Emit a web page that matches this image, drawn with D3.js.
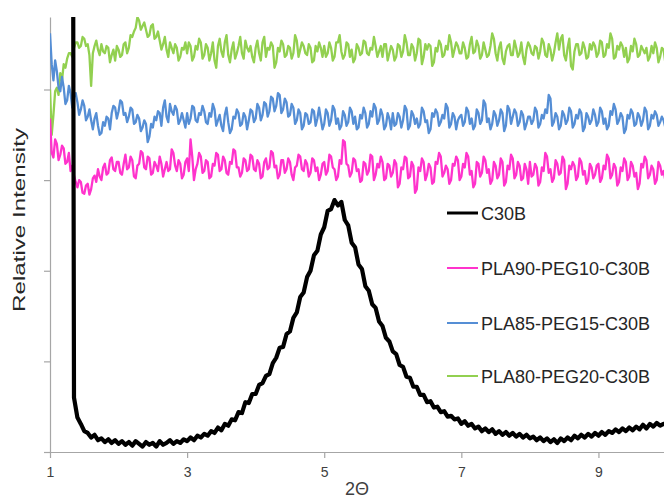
<!DOCTYPE html>
<html>
<head>
<meta charset="utf-8">
<script src="https://cdn.jsdelivr.net/npm/d3@7"></script>
<style>
  html, body { margin: 0; padding: 0; background: #fff; }
  svg { display: block; }
  text { font-family: "Liberation Sans", Arial, sans-serif; }
</style>
</head>
<body>
<svg id="chart" width="664" height="499"></svg>
<script>
// ---- DATA ----
// C30B sampled every 0.05 (2θ from 1.00); blends sampled every 0.025 (2θ from 1.00)
const blackStart = 1, blackStep = 0.05;
const blendStart = 1, blendStep = 0.025;
const seriesNames = ["C30B", "PLA90-PEG10-C30B", "PLA85-PEG15-C30B", "PLA80-PEG20-C30B"];
const xTicks = [1, 3, 5, 7, 9];
const yTicks = [0, 100, 200, 300, 400];

const c30b = [
  null, null, null, null, null, null, 2000, 60, 38, 31, 23, 21, 16, 19, 13, 15, 11, 14, 10, 13,
  9, 12, 8, 11, 7, 12, 9, 6, 11, 8, 10, 6, 12, 8, 10, 13, 9, 12, 10, 14,
  12, 16, 13, 18, 16, 20, 18, 23, 21, 27, 24, 31, 29, 36, 35, 44, 43, 55, 54, 64,
  64, 74, 76, 84, 86, 98, 104, 115, 116, 130, 133, 148, 154, 171, 176, 193, 200, 217, 222, 240,
  248, 266, 268, 278, 272, 276, 256, 250, 231, 226, 207, 202, 183, 178, 163, 159, 144, 139, 126, 122,
  111, 108, 96, 94, 83, 82, 72, 72, 63, 63, 55, 56, 49, 50, 44, 45, 39, 40, 36, 37,
  31, 34, 29, 31, 26, 28, 23, 26, 22, 25, 20, 23, 19, 22, 18, 21, 17, 20, 16, 19,
  15, 17, 13, 16, 12, 15, 11, 14, 10, 15, 12, 16, 13, 18, 15, 19, 16, 20, 17, 21,
  18, 22, 19, 23, 21, 25, 22, 26, 23, 27, 24, 28, 25, 30, 26, 31, 28, 32, 29, 31,
  30
];

const pla90 = [
  368, 330, 325, 345, 340, 322, 328, 338, 335, 318, 320, 330, 310, 316, 305, 298, 292, 300, 298, 286,
  285, 294, 296, 284, 290, 302, 305, 298, 312, 304, 300, 314, 318, 306, 308, 322, 325, 312, 310, 320,
  320, 308, 306, 318, 328, 312, 314, 326, 322, 304, 302, 316, 318, 332, 330, 314, 312, 326, 324, 306,
  308, 320, 316, 310, 326, 318, 304, 312, 320, 310, 312, 334, 330, 316, 310, 322, 318, 302, 306, 320,
  324, 310, 345, 326, 300, 312, 318, 330, 326, 308, 310, 322, 320, 302, 304, 318, 316, 330, 328, 310,
  312, 326, 322, 308, 306, 320, 318, 334, 332, 314, 314, 304, 308, 324, 322, 310, 312, 328, 326, 312,
  310, 322, 318, 302, 304, 320, 324, 312, 314, 332, 330, 314, 316, 302, 306, 322, 322, 308, 312, 324,
  320, 306, 300, 314, 316, 328, 326, 312, 310, 322, 318, 304, 308, 324, 322, 310, 314, 300, 306, 318,
  320, 306, 310, 328, 326, 314, 312, 300, 304, 322, 318, 344, 342, 318, 316, 304, 308, 324, 322, 310,
  312, 298, 300, 320, 318, 306, 310, 328, 326, 300, 306, 318, 314, 326, 320, 300, 302, 318, 316, 304,
  308, 322, 318, 292, 296, 314, 312, 326, 324, 302, 304, 320, 316, 286, 290, 314, 310, 324, 320, 300,
  306, 318, 314, 296, 298, 320, 318, 330, 326, 304, 308, 316, 312, 296, 300, 318, 316, 326, 322, 300,
  304, 318, 314, 330, 326, 306, 310, 292, 296, 320, 318, 304, 308, 326, 322, 308, 312, 296, 300, 320,
  316, 302, 306, 324, 320, 294, 298, 316, 312, 328, 324, 302, 306, 320, 316, 300, 302, 318, 312, 296,
  320, 304, 306, 318, 314, 294, 298, 314, 310, 330, 326, 308, 312, 298, 302, 322, 318, 306, 308, 326,
  322, 290, 296, 316, 312, 320, 316, 300, 304, 324, 320, 306, 310, 296, 300, 318, 314, 302, 306, 316,
  318, 298, 302, 316, 312, 328, 324, 302, 306, 318, 314, 294, 298, 314, 310, 324, 320, 300, 304, 320,
  316, 304, 308, 290, 296, 318, 314, 326, 322, 302, 306, 316, 312, 296, 300, 320, 316, 306, 310, 300,
  308
];

const pla85 = [
  462, 428, 410, 432, 420, 402, 398, 414, 402, 384, 388, 404, 396, 380, 392, 396, 386, 372, 378, 388,
  382, 366, 370, 378, 366, 356, 368, 374, 360, 350, 352, 364, 360, 370, 368, 356, 374, 382, 380, 368,
  376, 388, 386, 372, 374, 364, 370, 380, 378, 362, 364, 372, 368, 354, 358, 366, 362, 342, 348, 362,
  358, 370, 366, 376, 374, 360, 380, 388, 370, 364, 384, 376, 372, 382, 378, 362, 366, 374, 366, 358,
  374, 362, 368, 382, 380, 366, 364, 374, 372, 382, 376, 364, 362, 374, 370, 384, 378, 360, 366, 372,
  360, 354, 372, 380, 364, 352, 356, 370, 368, 378, 374, 360, 362, 374, 370, 356, 366, 378, 376, 364,
  368, 384, 380, 366, 372, 386, 384, 370, 376, 392, 390, 376, 382, 396, 394, 374, 378, 390, 386, 370,
  372, 384, 380, 362, 366, 378, 374, 356, 360, 374, 372, 362, 364, 378, 376, 360, 368, 380, 368, 356,
  362, 378, 374, 360, 366, 382, 378, 362, 368, 356, 360, 376, 372, 360, 364, 380, 376, 362, 370, 356,
  358, 372, 368, 380, 374, 358, 362, 376, 370, 384, 380, 362, 366, 378, 372, 356, 360, 374, 368, 356,
  374, 360, 362, 374, 370, 358, 366, 382, 378, 356, 360, 376, 372, 362, 368, 358, 362, 380, 376, 364,
  366, 352, 356, 374, 370, 378, 374, 360, 364, 372, 368, 384, 380, 358, 362, 374, 370, 356, 366, 370,
  372, 360, 364, 380, 376, 362, 368, 356, 360, 378, 374, 362, 366, 388, 384, 364, 368, 356, 362, 376,
  372, 360, 366, 378, 374, 354, 360, 382, 378, 362, 370, 378, 374, 360, 364, 376, 372, 356, 362, 370,
  370, 362, 366, 380, 376, 358, 362, 372, 368, 378, 374, 394, 390, 360, 364, 374, 370, 356, 360, 376,
  372, 362, 366, 380, 376, 358, 362, 372, 368, 378, 374, 354, 358, 374, 370, 362, 366, 378, 372, 360,
  364, 380, 376, 362, 368, 356, 360, 376, 372, 384, 378, 362, 366, 374, 370, 352, 356, 372, 368, 378,
  374, 360, 362, 374, 370, 360, 366, 380, 376, 356, 360, 372, 368, 376, 372, 360, 364, 370, 366, 358,
  362
];

const pla80 = [
  400, 350, 372, 398, 402, 394, 418, 410, 428, 424, 434, 440, 440, 436, 446, 452, 452, 446, 448, 458,
  456, 448, 450, 438, 404, 440, 448, 454, 444, 438, 450, 442, 440, 448, 446, 430, 438, 444, 432, 448,
  444, 436, 438, 450, 452, 440, 446, 460, 458, 464, 468, 480, 476, 466, 470, 474, 466, 458, 460, 470,
  472, 456, 458, 464, 454, 444, 450, 458, 444, 436, 452, 446, 440, 450, 446, 432, 436, 446, 444, 452,
  440, 452, 448, 432, 436, 448, 444, 456, 452, 434, 438, 450, 446, 432, 440, 452, 432, 424, 448, 456,
  442, 436, 452, 460, 438, 430, 444, 452, 434, 440, 448, 458, 440, 434, 454, 446, 442, 448, 436, 430,
  446, 454, 440, 432, 452, 458, 436, 446, 444, 452, 448, 424, 430, 446, 442, 454, 450, 436, 438, 448,
  446, 434, 440, 460, 454, 436, 444, 452, 448, 440, 438, 450, 446, 430, 432, 448, 442, 452, 446, 436,
  448, 436, 440, 452, 446, 432, 436, 452, 452, 460, 442, 434, 438, 452, 450, 436, 444, 430, 434, 450,
  446, 438, 440, 454, 452, 440, 438, 446, 444, 458, 448, 436, 442, 448, 436, 450, 450, 432, 440, 448,
  444, 432, 436, 450, 448, 436, 442, 460, 452, 438, 438, 450, 446, 432, 440, 456, 454, 428, 436, 450,
  444, 450, 448, 426, 430, 446, 442, 454, 450, 436, 438, 448, 444, 460, 452, 436, 444, 452, 448, 440,
  440, 452, 446, 434, 436, 450, 458, 440, 442, 454, 448, 434, 438, 452, 444, 436, 438, 448, 462, 456,
  440, 432, 446, 452, 434, 428, 442, 448, 450, 438, 438, 454, 446, 436, 440, 452, 436, 428, 444, 452,
  448, 440, 438, 448, 446, 434, 442, 456, 452, 438, 436, 450, 444, 432, 440, 452, 462, 444, 456, 460,
  438, 432, 446, 456, 426, 422, 442, 450, 450, 438, 440, 452, 446, 434, 436, 450, 444, 452, 448, 436,
  440, 454, 452, 436, 438, 450, 446, 462, 456, 434, 436, 448, 444, 452, 448, 436, 446, 430, 434, 448,
  442, 456, 450, 436, 438, 448, 444, 440, 446, 432, 436, 448, 440, 452, 446, 430, 436, 446, 444, 430,
  438
];

// ---- CHART ----
const svg = d3.select("#chart");
const W = 664, H = 499;
const m = { left: 50, top: 17, bottomY: 452, rightX: 667 };

const x = d3.scaleLinear().domain([1, 10]).range([m.left, m.rightX]);
const y = d3.scaleLinear().domain([0, 480]).range([m.bottomY, m.top]);

svg.append("defs").append("clipPath").attr("id", "plotclip")
  .append("rect")
  .attr("x", x(1)).attr("y", y(480))
  .attr("width", x(10) - x(1)).attr("height", y(0) - y(480));

const axisColor = "#A6A6A6";

// y axis
const yAxis = svg.append("g")
  .attr("transform", `translate(${x(1)},0)`)
  .call(d3.axisLeft(y).tickValues(yTicks).tickFormat("").tickSize(6).tickSizeOuter(0));
yAxis.selectAll("path, line").attr("stroke", axisColor).attr("stroke-width", 1.2);

// x axis
const xAxis = svg.append("g")
  .attr("transform", `translate(0,${y(0)})`)
  .call(d3.axisBottom(x).tickValues(xTicks).tickFormat(d3.format("d")).tickSize(6).tickSizeOuter(0).tickPadding(9));
xAxis.selectAll("path, line").attr("stroke", axisColor).attr("stroke-width", 1.2);
xAxis.selectAll("text").attr("font-size", 14).attr("fill", "#404040")
  .attr("font-family", "'Liberation Sans', Arial, sans-serif");

// series
const series = [
  { name: seriesNames[0], values: c30b,  start: blackStart, step: blackStep, color: "#000000", width: 4.2 },
  { name: seriesNames[1], values: pla90, start: blendStart, step: blendStep, color: "#FF33CC", width: 2.3 },
  { name: seriesNames[2], values: pla85, start: blendStart, step: blendStep, color: "#558ED5", width: 2.3 },
  { name: seriesNames[3], values: pla80, start: blendStart, step: blendStep, color: "#92D050", width: 2.3 }
];

const line = d3.line()
  .defined(d => d.v !== null)
  .x(d => x(d.x))
  .y(d => y(d.v));

const plot = svg.append("g").attr("clip-path", "url(#plotclip)");
[series[3], series[2], series[1], series[0]].forEach(s => {
  const pts = s.values.map((v, i) => ({ x: s.start + i * s.step, v }));
  plot.append("path")
    .datum(pts)
    .attr("d", line)
    .attr("fill", "none")
    .attr("stroke", s.color)
    .attr("stroke-width", s.width)
    .attr("stroke-linejoin", "round");
});

// legend
const legendY = [213, 268, 323, 376];
const lg = svg.append("g");
series.forEach((s, i) => {
  lg.append("line")
    .attr("x1", 447).attr("x2", 478)
    .attr("y1", legendY[i]).attr("y2", legendY[i])
    .attr("stroke", s.color)
    .attr("stroke-width", i === 0 ? 3 : 2);
  lg.append("text")
    .attr("x", 481).attr("y", legendY[i] + 6.5)
    .attr("font-size", 18)
    .attr("fill", "#262626")
    .text(s.name);
});

// axis titles
svg.append("text")
  .attr("x", (x(1) + W) / 2).attr("y", 495)
  .attr("text-anchor", "middle")
  .attr("font-size", 18).attr("fill", "#404040")
  .text("2Θ");

svg.append("text")
  .attr("transform", "translate(25,220) rotate(-90)")
  .attr("text-anchor", "middle")
  .attr("font-size", 17).attr("fill", "#262626")
  .attr("textLength", 184).attr("lengthAdjust", "spacingAndGlyphs")
  .text("Relative Intensity");
</script>
</body>
</html>
